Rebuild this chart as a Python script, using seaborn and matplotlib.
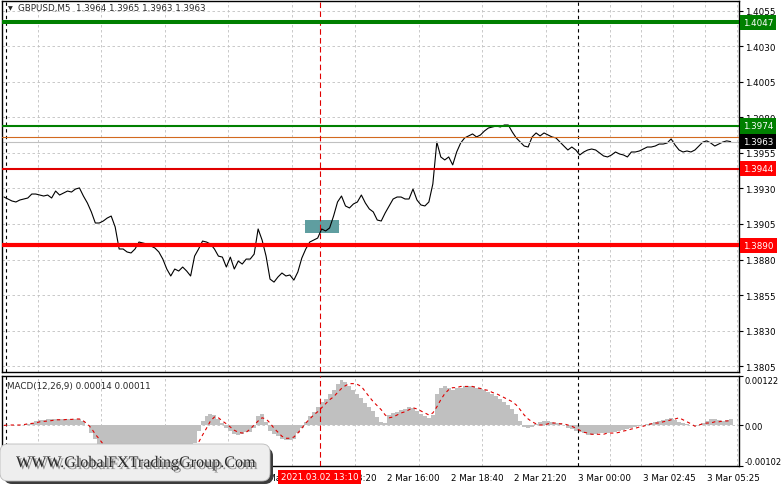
import matplotlib
matplotlib.use("Agg")
import matplotlib.pyplot as plt
import matplotlib.transforms as mtransforms
import matplotlib.patheffects as pe
from matplotlib.patches import Rectangle, FancyBboxPatch
from matplotlib.ticker import MultipleLocator
import numpy as np
import pandas as pd
import seaborn as sns

# 데이터: GBPUSD M5, 10분 간격 샘플 (2 Mar 00:00 기준 분, 1 Mar 23:55 부터)
start_min = -5
step_min = 10
price = [
    1.39240, 1.39226, 1.39212, 1.39205, 1.39219, 1.39226, 1.39233, 1.39261, 1.39261, 1.39254,
    1.39247, 1.39254, 1.39233, 1.39282, 1.39254, 1.39268, 1.39282, 1.39275, 1.39296, 1.39304,
    1.39247, 1.39198, 1.39135, 1.39057, 1.39057, 1.39071, 1.39092, 1.39106, 1.39029, 1.38874,
    1.38874, 1.38853, 1.38846, 1.38874, 1.38923, 1.38916, 1.38909, 1.38895, 1.38881, 1.38853,
    1.38803, 1.38733, 1.38684, 1.38733, 1.38719, 1.38747, 1.38719, 1.38684, 1.38824, 1.38874,
    1.38930, 1.38923, 1.38909, 1.38874, 1.38824, 1.38817, 1.38747, 1.38817, 1.38733, 1.38789,
    1.38768, 1.38803, 1.38803, 1.38838, 1.39015, 1.38937, 1.38824, 1.38662, 1.38641, 1.38677,
    1.38705, 1.38684, 1.38691, 1.38655, 1.38712, 1.38810, 1.38874, 1.38923, 1.38937, 1.38951,
    1.39015, 1.39001, 1.39022, 1.39106, 1.39205, 1.39247, 1.39177, 1.39163, 1.39191, 1.39205,
    1.39254, 1.39198, 1.39156, 1.39135, 1.39078, 1.39071, 1.39128, 1.39177, 1.39226, 1.39240,
    1.39240, 1.39226, 1.39226, 1.39296, 1.39219, 1.39184, 1.39177, 1.39205, 1.39332, 1.39627,
    1.39522, 1.39501, 1.39522, 1.39466, 1.39557, 1.39620, 1.39656, 1.39670, 1.39684, 1.39663,
    1.39677, 1.39705, 1.39726, 1.39733, 1.39740, 1.39733, 1.39747, 1.39747, 1.39698, 1.39656,
    1.39627, 1.39599, 1.39592, 1.39663, 1.39691, 1.39670, 1.39691, 1.39677, 1.39663, 1.39656,
    1.39627, 1.39599, 1.39571, 1.39592, 1.39571, 1.39536, 1.39557, 1.39571, 1.39578, 1.39571,
    1.39550, 1.39529, 1.39522, 1.39536, 1.39557, 1.39543, 1.39536, 1.39522, 1.39557, 1.39557,
    1.39564, 1.39578, 1.39592, 1.39592, 1.39599, 1.39613, 1.39613, 1.39620, 1.39649, 1.39606,
    1.39571, 1.39557, 1.39564, 1.39557, 1.39571, 1.39599, 1.39627, 1.39635, 1.39620, 1.39599,
    1.39613, 1.39627, 1.39635, 1.39630,
]
macd_main = [
    0.0, 0.00001, 0.00001, 0.00001, 0.00001, 0.00001, 0.00003, 0.00005, 0.00010, 0.00013,
    0.00013, 0.00014, 0.00014, 0.00014, 0.00014, 0.00014, 0.00014, 0.00015, 0.00015, 0.00014,
    0.00010, 0.0, -0.00020, -0.00035, -0.00050, -0.00063, -0.00070, -0.00070, -0.00076, -0.00086,
    -0.00091, -0.00091, -0.00086, -0.00081, -0.00076, -0.00073, -0.00070, -0.00070, -0.00073, -0.00078,
    -0.00083, -0.00088, -0.00093, -0.00093, -0.00091, -0.00088, -0.00083, -0.00070, -0.00045, -0.00015,
    0.00010, 0.00023, 0.00028, 0.00025, 0.00015, 0.00005, -0.00008, -0.00015, -0.00023, -0.00025,
    -0.00023, -0.00018, -0.00018, -0.00008, 0.00023, 0.00028, 0.00008, -0.00015, -0.00023, -0.00028,
    -0.00035, -0.00038, -0.00038, -0.00035, -0.00020, -0.00008, 0.00008, 0.00023, 0.00033, 0.00045,
    0.00058, 0.00065, 0.00076, 0.00088, 0.00103, 0.00113, 0.00106, 0.00096, 0.00086, 0.00076,
    0.00068, 0.00055, 0.00045, 0.00035, 0.00020, 0.00008, 0.00005, 0.00025, 0.00030, 0.00033,
    0.00038, 0.00040, 0.00045, 0.00043, 0.00035, 0.00028, 0.00023, 0.00018, 0.00025, 0.00076,
    0.00093, 0.00096, 0.00091, 0.00088, 0.00091, 0.00093, 0.00096, 0.00096, 0.00096, 0.00093,
    0.00091, 0.00088, 0.00083, 0.00078, 0.00073, 0.00065, 0.00058, 0.00050, 0.00040, 0.00028,
    0.00010, -0.00005, -0.00008, -0.00005, 0.00003, 0.00008, 0.00010, 0.00010, 0.00008, 0.00005,
    0.00005, 0.0, -0.00008, -0.00010, -0.00015, -0.00018, -0.00020, -0.00025, -0.00025, -0.00023,
    -0.00020, -0.00020, -0.00020, -0.00018, -0.00018, -0.00015, -0.00013, -0.00010, -0.00008, -0.00005,
    -0.00003, 0.0, 0.00003, 0.00005, 0.00008, 0.00010, 0.00013, 0.00015, 0.00018, 0.00013,
    0.00008, 0.00005, 0.00003, 0.0, -0.00003, 0.0, 0.00005, 0.00010, 0.00015, 0.00015,
    0.00013, 0.00010, 0.00013, 0.00014,
]
macd_signal = [
    -0.00001, 0.0, 0.0, 0.0, 0.0, 0.00001, 0.00003, 0.00004, 0.00005, 0.00008,
    0.00009, 0.00010, 0.00011, 0.00013, 0.00013, 0.00013, 0.00014, 0.00014, 0.00015, 0.00015,
    0.00010, 0.00003, -0.00008, -0.00023, -0.00035, -0.00048, -0.00058, -0.00065, -0.00070, -0.00076,
    -0.00078, -0.00081, -0.00083, -0.00083, -0.00083, -0.00081, -0.00078, -0.00078, -0.00076, -0.00076,
    -0.00078, -0.00078, -0.00081, -0.00083, -0.00083, -0.00083, -0.00081, -0.00076, -0.00063, -0.00043,
    -0.00025, -0.00008, 0.00010, 0.00020, 0.00018, 0.00010, 0.00003, -0.00005, -0.00013, -0.00018,
    -0.00020, -0.00018, -0.00010, 0.0, 0.00010, 0.00018, 0.00015, 0.00005, -0.00008, -0.00018,
    -0.00028, -0.00033, -0.00033, -0.00030, -0.00020, -0.00008, 0.00005, 0.00015, 0.00025, 0.00033,
    0.00043, 0.00053, 0.00063, 0.00070, 0.00081, 0.00091, 0.00098, 0.00103, 0.00103, 0.00101,
    0.00096, 0.00083, 0.00070, 0.00058, 0.00048, 0.00038, 0.00025, 0.00018, 0.00020, 0.00025,
    0.00030, 0.00033, 0.00038, 0.00043, 0.00040, 0.00035, 0.00030, 0.00025, 0.00030, 0.00045,
    0.00063, 0.00078, 0.00088, 0.00093, 0.00093, 0.00096, 0.00096, 0.00096, 0.00096, 0.00093,
    0.00091, 0.00088, 0.00086, 0.00081, 0.00078, 0.00073, 0.00068, 0.00063, 0.00058, 0.00050,
    0.00038, 0.00025, 0.00015, 0.00008, 0.00003, 0.0, 0.0, 0.00003, 0.00005, 0.00005,
    0.00003, 0.00003, 0.0, -0.00003, -0.00008, -0.00013, -0.00018, -0.00020, -0.00023, -0.00023,
    -0.00023, -0.00023, -0.00020, -0.00020, -0.00020, -0.00018, -0.00015, -0.00013, -0.00010, -0.00008,
    -0.00005, -0.00003, 0.0, 0.00003, 0.00005, 0.00005, 0.00008, 0.00010, 0.00013, 0.00015,
    0.00018, 0.00013, 0.00008, 0.00003, -0.00003, 0.0, 0.00003, 0.00005, 0.00005, 0.00008,
    0.00008, 0.00010, 0.00010, 0.00011,
]

# 수평 레벨
green_levels = [1.4047, 1.3974]
red_levels = [1.3944, 1.3890]
orange_level = 1.3966
bid_level = 1.3963
entry_min = 790  # 2021.03.02 13:10
zone_min = [753, 838]
zone_price = [1.38986, 1.39078]

price_ticks = [1.3805, 1.3830, 1.3855, 1.3880, 1.3905, 1.3930, 1.3955, 1.3980, 1.4005, 1.4030, 1.4055]
time_ticks = [0, 160, 320, 480, 640, 800, 960, 1120, 1280, 1440, 1605, 1765]
time_labels = ["2 Mar 2021", "2 Mar 02:40", "2 Mar 05:20", "2 Mar 08:00", "2 Mar 10:40",
               "2 Mar 13:20", "2 Mar 16:00", "2 Mar 18:40", "2 Mar 21:20",
               "3 Mar 00:00", "3 Mar 02:45", "3 Mar 05:25"]
day_breaks = [0, 1440]

df = pd.DataFrame({"t": start_min + step_min * np.arange(len(price)),
                   "price": price, "macd": macd_main, "signal": macd_signal})

sns.set_style("white")
plt.rcParams['font.family'] = ['DejaVu Sans']
FS = 6.3
grid_kw = dict(color="#c0c0c0", linestyle=(0, (3, 3)), linewidth=0.6)

fig = plt.figure(figsize=(7.81, 4.89), dpi=100)
ax = fig.add_axes([2 / 781, 1 - 373 / 489, 737 / 781, 371 / 489])
ax2 = fig.add_axes([2 / 781, 1 - 467 / 489, 737 / 781, 90 / 489], sharex=ax)

# 가격 패널
ax.add_patch(Rectangle((zone_min[0], zone_price[0]), zone_min[1] - zone_min[0],
                       zone_price[1] - zone_price[0], facecolor="#5F9EA0", edgecolor="none", zorder=1.5))
sns.lineplot(data=df, x="t", y="price", ax=ax, color="black", linewidth=0.8, zorder=2)
ax.axhline(bid_level, color="#c0c0c0", linewidth=0.8, zorder=2.5)
ax.axhline(orange_level, color="#d2691e", linewidth=0.8, zorder=2.6)
ax.axhline(green_levels[0], color="#008000", linewidth=2.9, zorder=3)
ax.axhline(green_levels[1], color="#008000", linewidth=1.5, zorder=3)
ax.axhline(red_levels[0], color="#e00000", linewidth=1.5, zorder=3)
ax.axhline(red_levels[1], color="#ff0000", linewidth=3.0, zorder=3)

ax.set_xlim(-10, 1846)
ax.set_ylim(1.38008, 1.40620)
ax.set_yticks(price_ticks)
ax.set_yticklabels([f"{p:.4f}" for p in price_ticks])
ax.xaxis.set_minor_locator(MultipleLocator(80))
ax.grid(False)
ax.grid(True, which="minor", axis="x", **grid_kw)
ax.grid(True, which="major", axis="y", **grid_kw)
ax.set_xlabel("")
ax.set_ylabel("")
ax.yaxis.tick_right()
ax.tick_params(axis="y", length=3, width=0.8, pad=1.5, labelsize=FS, colors="black")
ax.tick_params(axis="x", which="both", bottom=False, labelbottom=False)

for a in (ax, ax2):
    for s in a.spines.values():
        s.set_color("black")
        s.set_linewidth(1.0)
    for d in day_breaks:
        a.axvline(d, color="black", linestyle=(0, (3, 3)), linewidth=0.8, zorder=2.2)
    a.axvline(entry_min, color="#e00000", linestyle=(0, (5, 3)), linewidth=0.8, zorder=2.8)

# 오른쪽 가격 라벨
trans = mtransforms.blended_transform_factory(ax.transAxes, ax.transData)
def tag(y, text, face, z):
    ax.text(1.0 + 4 / 737, y, text, transform=trans, ha="left", va="center", color="white",
            fontsize=FS, zorder=z, clip_on=False,
            bbox=dict(boxstyle="square,pad=0.35", facecolor=face, edgecolor="none"))

tag(orange_level, f"{orange_level:.4f}", "#ff4500", 6)
tag(green_levels[0], f"{green_levels[0]:.4f}", "#008000", 7)
tag(green_levels[1], f"{green_levels[1]:.4f}", "#008000", 7)
tag(bid_level, f"{bid_level:.4f}", "black", 8)
tag(red_levels[0], f"{red_levels[0]:.4f}", "#ff0000", 7)
tag(red_levels[1], f"{red_levels[1]:.4f}", "#ff0000", 7)

ax.text(6 / 737, 1 - 7 / 371, "\u25BC", transform=ax.transAxes, fontsize=4.5, va="center", ha="left")
ax.text(16 / 737, 1 - 7 / 371, "GBPUSD,M5  1.3964 1.3965 1.3963 1.3963", transform=ax.transAxes,
        fontsize=FS, va="center", ha="left")

# MACD 패널
ax2.bar(df["t"], df["macd"], width=step_min, color="#c0c0c0", linewidth=0, zorder=1.5)
sns.lineplot(data=df, x="t", y="signal", ax=ax2, color="#e00000", linewidth=0.8,
             linestyle=(0, (3, 3)), zorder=2.5)
ax2.axhline(0, **grid_kw, zorder=1)
ax2.set_ylim(-0.00102, 0.00122)
ax2.set_yticks([0.00122, 0.0, -0.00102])
ax2.set_yticklabels(["0.00122", "0.00", "-0.00102"])
ax2.yaxis.tick_right()
ax2.tick_params(axis="y", length=3, width=0.8, pad=1.0, labelsize=6.0, colors="black")
lbls = ax2.get_yticklabels()
lbls[0].set_va("top")
lbls[2].set_va("bottom")
ax2.xaxis.set_minor_locator(MultipleLocator(80))
ax2.grid(False)
ax2.grid(True, which="minor", axis="x", **grid_kw)
ax2.set_xticks(time_ticks)
ax2.set_xticklabels(time_labels, ha="left")
ax2.tick_params(axis="x", which="major", length=3, width=0.8, pad=2, labelsize=FS, colors="black")
ax2.tick_params(axis="x", which="minor", length=0)
ax2.set_xlabel("")
ax2.set_ylabel("")
ax2.text(5 / 737, 1 - 10 / 90, "MACD(12,26,9) 0.00014 0.00011", transform=ax2.transAxes,
         fontsize=FS, va="center", ha="left")

trans2 = mtransforms.blended_transform_factory(ax2.transData, ax2.transAxes)
ax2.text(entry_min, -11 / 90, "2021.03.02 13:10", transform=trans2, ha="center", va="center",
         color="white", fontsize=FS, zorder=10, clip_on=False,
         bbox=dict(boxstyle="square,pad=0.3", facecolor="#ff0000", edgecolor="none"))

# 워터마크
ov = fig.add_axes([0, 0, 1, 1], zorder=20)
ov.set_xlim(0, 781)
ov.set_ylim(489, 0)
ov.axis("off")
ov.patch.set_alpha(0)
ov.add_patch(FancyBboxPatch((4, 449), 269, 36, boxstyle="round,pad=0,rounding_size=8",
                            facecolor="#3c3c3c", edgecolor="none"))
box = FancyBboxPatch((0, 445), 270, 37, boxstyle="round,pad=0,rounding_size=8",
                     facecolor="#eeeeee", edgecolor="#bbbbbb", linewidth=0.6)
ov.add_patch(box)
grad = np.linspace(1.0, 0.82, 64).reshape(-1, 1)
im = ov.imshow(grad, extent=(0, 270, 482, 445), cmap="gray", vmin=0, vmax=1, aspect="auto")
im.set_clip_path(box)
ov.set_xlim(0, 781)
ov.set_ylim(489, 0)
ov.text(136, 464, "WWW.GlobalFXTradingGroup.Com", fontsize=11.6, family="Liberation Serif",
        color="#2a2a2a", ha="center", va="center",
        path_effects=[pe.withSimplePatchShadow(offset=(1.5, -1.5), shadow_rgbFace="#666666", alpha=0.7)])

fig.savefig("out.png", dpi=100)
